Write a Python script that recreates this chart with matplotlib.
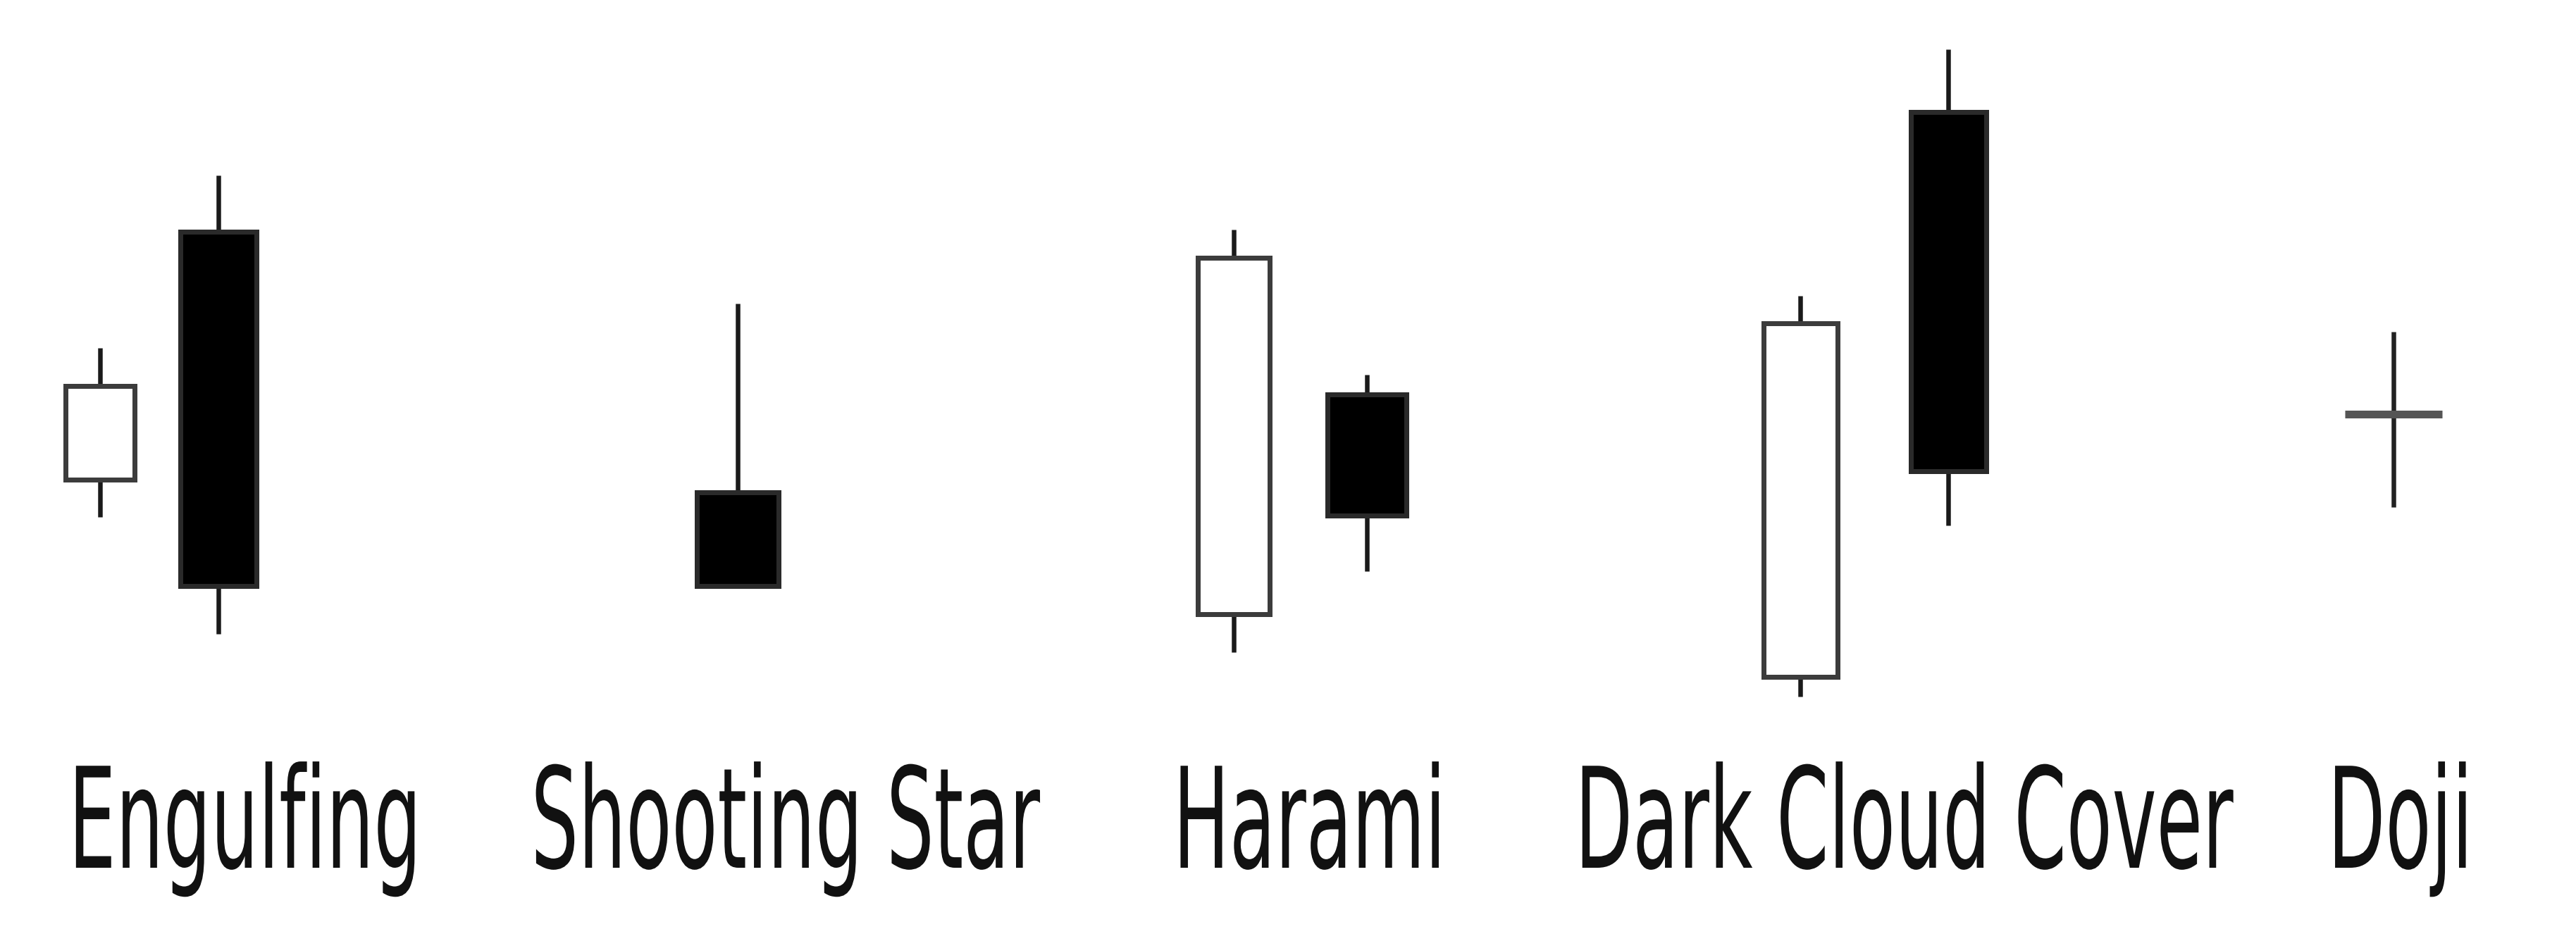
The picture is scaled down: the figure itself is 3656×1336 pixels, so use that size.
import matplotlib
matplotlib.use("Agg")
import matplotlib.pyplot as plt
from matplotlib.patheffects import AbstractPathEffect
from matplotlib.transforms import Affine2D

# ---- data (price units) ----
patterns = ["Engulfing", "Shooting Star", "Harami", "Dark Cloud Cover", "Doji"]
opens  = [28.1, 43.2, 27.3, 19.9, 33.3, 16.1, 50.5, 32.1]
closes = [33.8, 21.6, 21.6, 41.6, 25.9, 37.6, 28.6, 32.1]
highs  = [36.1, 46.6, 38.8, 43.3, 34.5, 39.3, 54.3, 37.1]
lows   = [25.8, 18.7, 21.6, 17.6, 22.5, 14.9, 25.3, 26.4]

# ---- layout ----
candle_x = [61, 133, 449, 751, 832, 1096, 1186, 1457]
candle_w = [42, 46, 50, 44, 48, 45, 46, 59]
label_x = [149, 478, 797, 1159, 1461]
label_y = 4.46

DPI = 100
fig = plt.figure(figsize=(36.56, 13.36), dpi=DPI)
ax = fig.add_axes([0, 0, 1, 1])
ax.set_xlim(0, 1568)
ax.set_ylim(0, 57.3)
ax.axis("off")

px = 72.0 / DPI  # points per pixel
edge_lw = 7 * px
wick_lw = 6.5 * px

for x, w, o, c, h, l in zip(candle_x, candle_w, opens, closes, highs, lows):
    lo_b, hi_b = min(o, c), max(o, c)
    if hi_b - lo_b < 1e-9:
        # doji: horizontal tick + full wick
        ax.vlines(x, l, h, color="#222222", lw=wick_lw, zorder=2)
        ax.hlines(o, x - w / 2, x + w / 2, color="#555555", lw=11 * px, zorder=3)
        continue
    bearish = c < o
    if h > hi_b:
        ax.vlines(x, hi_b, h, color="#1a1a1a", lw=wick_lw, zorder=1)
    if l < lo_b:
        ax.vlines(x, l, lo_b, color="#1a1a1a", lw=wick_lw, zorder=1)
    ax.bar(x, hi_b - lo_b, bottom=lo_b, width=w,
           color="black" if bearish else "white",
           edgecolor="#2a2a2a" if bearish else "#3c3c3c",
           linewidth=edge_lw, zorder=2)


class Stretch(AbstractPathEffect):
    """Stretch glyphs vertically about the baseline (condensed look)."""
    def __init__(self, sy):
        super().__init__()
        self.sy = sy

    def draw_path(self, renderer, gc, tpath, affine, rgbFace=None):
        aff = Affine2D().scale(1, self.sy) + affine
        renderer.draw_path(gc, tpath, aff, rgbFace)


SQUEEZE = 0.535
for name, lx in zip(patterns, label_x):
    ax.text(lx, label_y, name, ha="center", va="baseline",
            fontsize=143 * SQUEEZE, color="#111111", family="DejaVu Sans",
            path_effects=[Stretch(1.0 / SQUEEZE)])

fig.savefig("out.png", dpi=DPI, facecolor="white")
